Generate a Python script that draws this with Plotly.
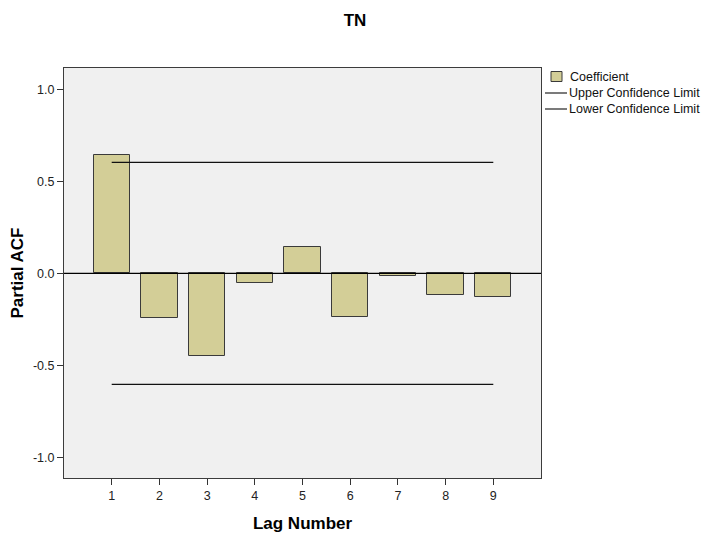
import plotly.graph_objects as go

# Partial autocorrelation of TN by lag
lags = [1, 2, 3, 4, 5, 6, 7, 8, 9]
pacf = [0.641, -0.245, -0.448, -0.054, 0.145, -0.236, -0.013, -0.120, -0.127]
upper_limit = [0.603, 0.603, 0.603, 0.603, 0.603, 0.603, 0.603, 0.603, 0.603]
lower_limit = [-0.603, -0.603, -0.603, -0.603, -0.603, -0.603, -0.603, -0.603, -0.603]

y_tick_vals = [-1.0, -0.5, 0.0, 0.5, 1.0]
y_tick_text = ["-1.0", "-0.5", "0.0", "0.5", "1.0"]
x_tick_text = ["1", "2", "3", "4", "5", "6", "7", "8", "9"]

legend_labels = ["Coefficient", "Upper Confidence Limit", "Lower Confidence Limit"]

BAR_FILL = "#d3ce97"
BAR_EDGE = "#3a3a3a"
FONT = "Arial, Liberation Sans, sans-serif"

W, H = 710, 536
ML, MR, MT, MB = 64, 169, 68, 58
PW, PH = W - ML - MR, H - MT - MB


def px_x(x):
    return (x - ML) / PW


def px_y(y):
    return (H - MB - y) / PH


fig = go.Figure()

fig.add_trace(go.Bar(
    x=lags, y=pacf, width=0.76,
    marker=dict(color=BAR_FILL, line=dict(color=BAR_EDGE, width=1)),
    name=legend_labels[0], showlegend=False,
))
fig.add_trace(go.Scatter(
    x=lags, y=upper_limit, mode="lines",
    line=dict(color="#111111", width=1.2),
    name=legend_labels[1], showlegend=False,
))
fig.add_trace(go.Scatter(
    x=lags, y=lower_limit, mode="lines",
    line=dict(color="#111111", width=1.2),
    name=legend_labels[2], showlegend=False,
))

# zero reference line across the plot area
fig.add_shape(type="line", xref="paper", yref="y", x0=0, x1=1, y0=0, y1=0,
              line=dict(color="#000000", width=1.2), layer="above")

# legend drawn at the right of the plot
shapes = []
annotations = []
shapes.append(dict(type="rect", xref="paper", yref="paper",
                   x0=px_x(551), x1=px_x(562), y0=px_y(81.5), y1=px_y(71.5),
                   fillcolor=BAR_FILL, line=dict(color=BAR_EDGE, width=1)))
annotations.append(dict(xref="paper", yref="paper", x=px_x(568), y=px_y(76.5),
                        text=legend_labels[0], showarrow=False, xanchor="left",
                        yanchor="middle", font=dict(size=12.5, color="#111111", family=FONT)))
for i, yy in enumerate([93, 109]):
    shapes.append(dict(type="line", xref="paper", yref="paper",
                       x0=px_x(545), x1=px_x(567), y0=px_y(yy), y1=px_y(yy),
                       line=dict(color="#222222", width=1.2)))
    annotations.append(dict(xref="paper", yref="paper", x=px_x(567), y=px_y(yy),
                            text=legend_labels[i + 1], showarrow=False, xanchor="left",
                            yanchor="middle", font=dict(size=12.5, color="#111111", family=FONT)))
for s in shapes:
    fig.add_shape(**s)

fig.update_layout(
    width=W, height=H,
    margin=dict(l=ML, r=MR, t=MT, b=MB, pad=0, autoexpand=False),
    paper_bgcolor="#ffffff",
    plot_bgcolor="#f0f0f0",
    font=dict(family=FONT, color="#222222"),
    title=dict(text="<b>TN</b>", x=0.5, xref="container", xanchor="center",
               y=1 - 20 / H, yanchor="middle",
               font=dict(size=17, color="#000000", family=FONT)),
    annotations=annotations,
    bargap=0,
    showlegend=False,
)

fig.update_xaxes(
    range=[0, 10], tickvals=lags, ticktext=x_tick_text,
    ticks="outside", ticklen=6, tickcolor="#333333", tickwidth=1,
    tickfont=dict(size=12.5, color="#222222", family=FONT),
    showgrid=False, zeroline=False, automargin=False,
    showline=True, linecolor="#3c3c3c", linewidth=1, mirror=True,
    title=dict(text="<b>Lag Number</b>", standoff=15,
               font=dict(size=17, color="#000000", family=FONT)),
)
fig.update_yaxes(
    range=[-1.112, 1.116], tickvals=y_tick_vals, ticktext=y_tick_text,
    ticks="outside", ticklen=6, tickcolor="#333333", tickwidth=1,
    tickfont=dict(size=12.5, color="#222222", family=FONT),
    showgrid=False, zeroline=False, automargin=False,
    showline=True, linecolor="#3c3c3c", linewidth=1, mirror=True,
    title=dict(text="<b>Partial ACF</b>", standoff=5,
               font=dict(size=17, color="#000000", family=FONT)),
)

fig.write_html("out.html")
